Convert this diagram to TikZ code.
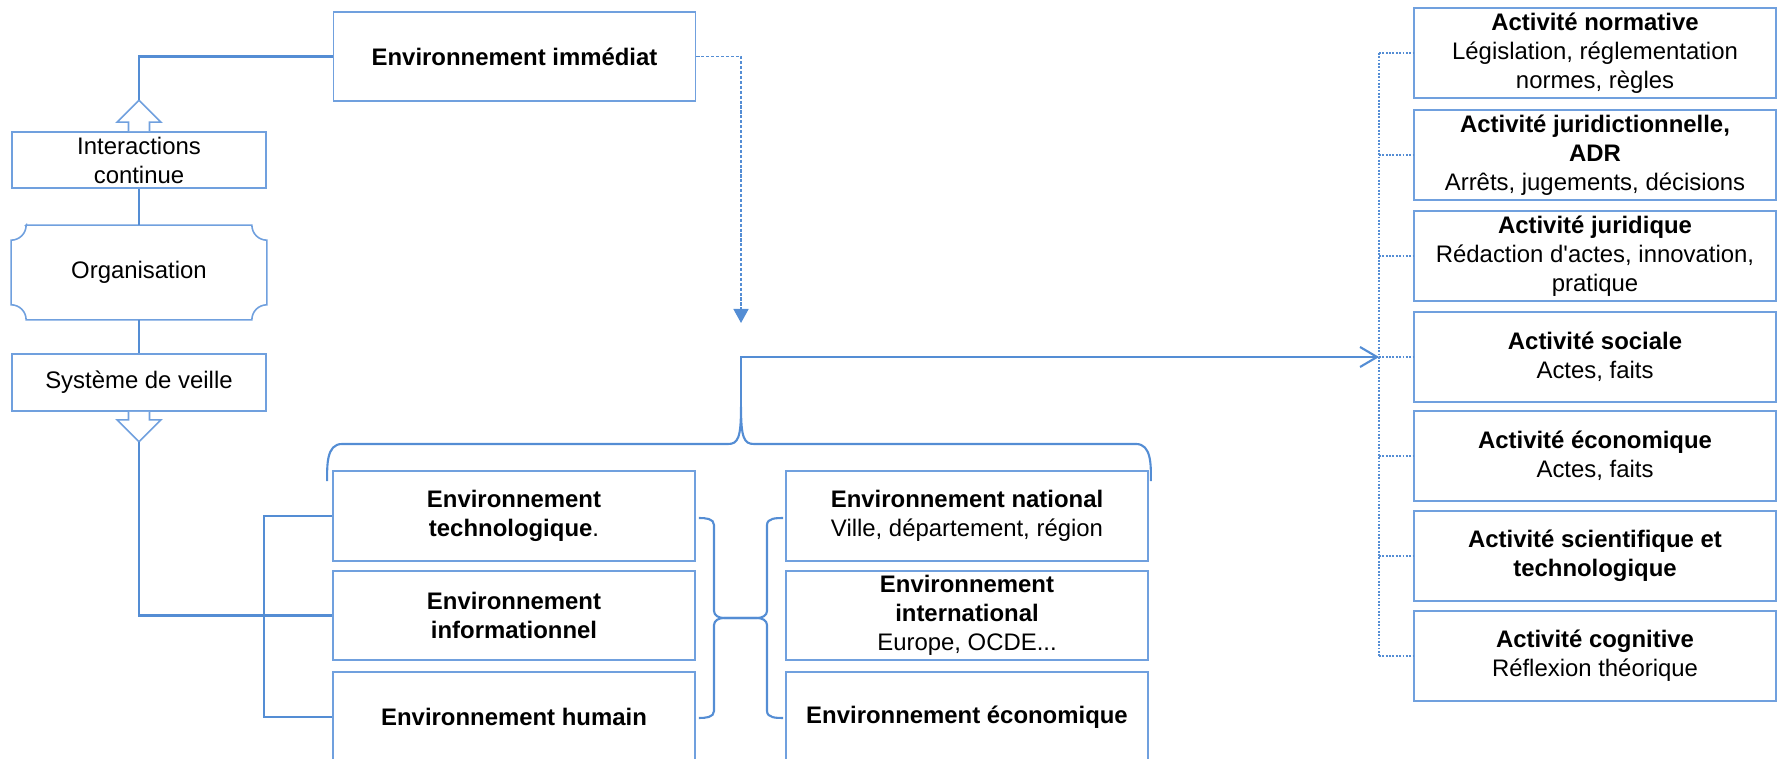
\documentclass[tikz,border=0pt]{standalone}
\usepackage{fontspec}
\setmainfont{Liberation Sans}
\usetikzlibrary{arrows.meta,calc,positioning}
\definecolor{linkblue}{RGB}{84,141,212}
\definecolor{boxblue}{RGB}{112,160,222}

\begin{document}
\begin{tikzpicture}[x=0.01cm,y=0.01cm,
		font=\fontsize{6.8}{8.25}\selectfont,
		envbox/.style={draw=boxblue,line width=0.45pt,fill=white,align=center,inner sep=0pt,minimum width=3.62cm,minimum height=0.9cm},
		sidebox/.style={envbox,minimum width=2.54cm},
		link/.style={draw=linkblue,line width=0.6pt},
		dots/.style={draw=linkblue,line width=0.5pt,dash pattern=on 0.5pt off 0.45pt},
		dashes/.style={draw=linkblue,line width=0.45pt,dash pattern=on 0.9pt off 0.5pt},
		blockarrow/.style={draw=boxblue,line width=0.45pt,fill=white}]
	\useasboundingbox (0,0) rectangle (1786,758);

	\node[envbox,minimum height=0.89cm] (envimm) at (514.5,701.5) {\textbf{Environnement immédiat}};

	\node[sidebox,minimum height=0.56cm] (inter) at (139,598) {Interactions\\continue};
	\node[sidebox,draw=none,fill=none,minimum height=0.93cm] (orga) at (139,485.5) {Organisation};
	\node[sidebox,minimum height=0.57cm] (veille) at (139,375.5) {Système de veille};

	\node[envbox] (tech) at (514,242) {\textbf{Environnement}\\\textbf{technologique}.};
	\node[envbox,minimum height=0.89cm] (info) at (514,142.5) {\textbf{Environnement}\\\textbf{informationnel}};
	\node[envbox] (hum) at (514,41) {\textbf{Environnement humain}};

	\node[envbox] (nat) at (967,242) {\textbf{Environnement national}\\Ville, département, région};
	\node[envbox,minimum height=0.89cm] (intl) at (967,142.5) {\textbf{Environnement}\\\textbf{international}\\Europe, OCDE...};
	\node[envbox] (eco) at (967,41) {\textbf{Environnement économique}};

	\node[envbox] (norm) at (1595,705) {\textbf{Activité normative}\\Législation, réglementation\\normes, règles};
	\node[envbox] (juridict) at (1595,603) {\textbf{Activité juridictionnelle,}\\\textbf{ADR}\\Arrêts, jugements, décisions};
	\node[envbox] (jurid) at (1595,502) {\textbf{Activité juridique}\\Rédaction d\textquotesingle actes, innovation,\\pratique};
	\node[envbox] (soc) at (1595,401) {\textbf{Activité sociale}\\Actes, faits};
	\node[envbox] (econ) at (1595,302) {\textbf{Activité économique}\\Actes, faits};
	\node[envbox] (scient) at (1595,202) {\textbf{Activité scientifique et}\\\textbf{technologique}};
	\node[envbox] (cogn) at (1595,102) {\textbf{Activité cognitive}\\Réflexion théorique};

	\draw[boxblue,line width=0.45pt] ($(orga.north west)+(15,0)$) -- ($(orga.north east)+(-15,0)$) arc[start angle=180,end angle=270,radius=0.15cm]
		-- ($(orga.south east)+(0,15)$) arc[start angle=90,end angle=180,radius=0.15cm]
		-- ($(orga.south west)+(15,0)$) arc[start angle=0,end angle=90,radius=0.15cm]
		-- ($(orga.north west)+(0,-15)$) arc[start angle=270,end angle=360,radius=0.15cm] -- cycle;

	\coordinate (uptip) at ($(inter.north)+(0,31)$);
	\coordinate (downtip) at ($(veille.south)+(0,-30)$);
	\draw[blockarrow] ($(inter.north)+(-10.5,0)$) -- ++(0,9) -- ++(-11.5,0) -- (uptip) -- ++(22,-22) -- ++(-11.5,0) -- ++(0,-9);
	\draw[blockarrow] ($(veille.south)+(-10.5,0)$) -- ++(0,-8) -- ++(-11.5,0) -- (downtip) -- ++(22,22) -- ++(-11.5,0) -- ++(0,8);

	\draw[link] (envimm.west) -| (uptip);
	\draw[link] (inter.south) -- (orga.north);
	\draw[link] (orga.south) -- (veille.north);
	\draw[link] (downtip) |- (info.west);
	\draw[link] (tech.west) -- ++(-68,0) |- (hum.west);

	\coordinate (droptip) at (741,435);
	\draw[dashes,-{Triangle[length=0.14cm,width=0.15cm]}] (envimm.east) -| (droptip);

	\coordinate (bracetip) at (741,351);
	\draw[link] ($(tech.north west)+(-5,-11)$) to[out=90,in=180] (342,314) -- (728,314)
		.. controls (738,314) and (741,320) .. (bracetip)
		.. controls (741,320) and (744,314) .. (754,314) -- (1136,314) to[out=0,in=90] ($(nat.north east)+(2,-11)$);

	\draw[link] ($(tech.east)+(3,-2)$) to[out=0,in=90] (714,233) -- (714,147) to[out=-90,in=180] (724,140) -- (757,140)
		to[out=0,in=-90] (767,147) -- (767,233) to[out=90,in=180] ($(nat.west)+(-2,-2)$);
	\draw[link] ($(hum.east)+(3,-1)$) to[out=0,in=-90] (714,47) -- (714,133) to[out=90,in=180] (724,140) -- (757,140)
		to[out=0,in=90] (767,133) -- (767,47) to[out=-90,in=180] ($(eco.west)+(-2,-1)$);

	\coordinate (hub) at ($(soc.west)+(-34,0)$);
	\draw[link,-{Straight Barb[length=0.17cm,width=0.2cm]}] (bracetip) |- (hub);

	\draw[dots] (norm.west -| hub) -- (cogn.west -| hub);
	\foreach \act in {norm,juridict,jurid,soc,econ,scient,cogn}
		\draw[dots] (\act.west -| hub) -- (\act.west);
\end{tikzpicture}
\end{document}
